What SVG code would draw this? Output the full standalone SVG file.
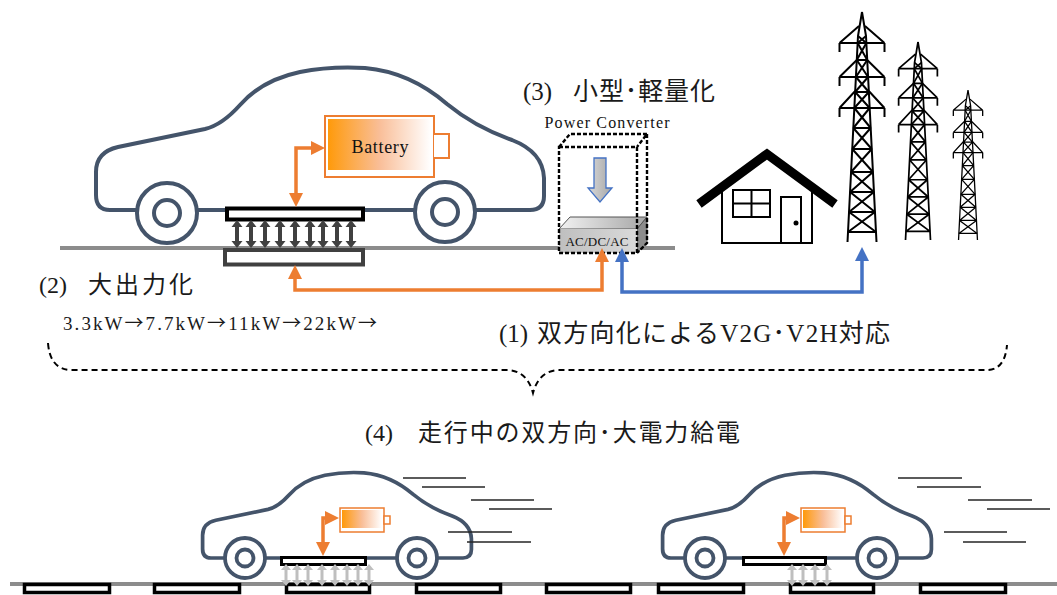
<svg xmlns="http://www.w3.org/2000/svg" xmlns:xlink="http://www.w3.org/1999/xlink" width="1057" height="595" viewBox="0 0 1057 595">
  <style>
    .body { fill: none; stroke: #44546A; stroke-width: 4; stroke-linejoin: round; }
    .body-s { fill: none; stroke: #44546A; stroke-width: 6.2; stroke-linejoin: round; }
    .wheel { fill: #fff; stroke: #44546A; stroke-width: 4; }
    .wheel-s { fill: #fff; stroke: #44546A; stroke-width: 3.8; }
    .ground { stroke: #8C8C8C; stroke-width: 4; fill: none; }
    .pad { fill: #fff; stroke: #000; stroke-width: 4; }
    .pad-s { fill: #fff; stroke: #000; stroke-width: 3; }
    .road-pad { fill: #fff; stroke: #000; stroke-width: 3.5; }
    .batt { fill: #fff; stroke: #ED7D31; stroke-width: 2; }
    .batt-s { fill: #fff; stroke: #ED7D31; stroke-width: 1.5; }
    .orange { fill: none; stroke: #ED7D31; stroke-width: 3.5; marker-start: url(#arrOrange); marker-end: url(#arrOrange); }
    .blue { fill: none; stroke: #4472C4; stroke-width: 3.5; marker-start: url(#arrBlue); marker-end: url(#arrBlue); }
    .speed { stroke: #262626; stroke-width: 1.5; }
    .dash { fill: none; stroke: #000; stroke-width: 2.4; stroke-dasharray: 4 2; }
    .brace { fill: none; stroke: #000; stroke-width: 2; stroke-dasharray: 6 4; }
    .lbl { font-family: "Liberation Serif", "Noto Sans CJK JP", serif; fill: #1a1a1a; }
    .cjk { font-family: "Noto Sans CJK JP", sans-serif; }
    .serif { font-family: "Liberation Serif", "Times New Roman", serif; fill: #111; }
    .tower { fill: none; stroke: #000; stroke-width: 2; stroke-linejoin: round; }
  </style>
  <defs>
    <linearGradient id="battFill" x1="0" y1="0" x2="1" y2="0">
      <stop offset="0" stop-color="#FF9A0A"/>
      <stop offset="0.5" stop-color="#F9BE98"/>
      <stop offset="1" stop-color="#FFFFFF"/>
    </linearGradient>
    <linearGradient id="slabTop" x1="0" y1="0" x2="1" y2="0">
      <stop offset="0" stop-color="#F2F2F2"/>
      <stop offset="1" stop-color="#A6A6A6"/>
    </linearGradient>
    <linearGradient id="slabFront" x1="0" y1="0" x2="1" y2="0">
      <stop offset="0" stop-color="#BFBFBF"/>
      <stop offset="1" stop-color="#D9D9D9"/>
    </linearGradient>
    <linearGradient id="downFill" x1="0" y1="0" x2="1" y2="0">
      <stop offset="0" stop-color="#D9D9D9"/>
      <stop offset="1" stop-color="#A6A6A6"/>
    </linearGradient>
    <marker id="arrOrange" viewBox="0 0 14 14" refX="1" refY="7" markerWidth="14" markerHeight="14" markerUnits="userSpaceOnUse" orient="auto-start-reverse">
      <path d="M0,0 L14,7 L0,14 Z" fill="#ED7D31"/>
    </marker>
    <marker id="arrBlue" viewBox="0 0 14 14" refX="1" refY="7" markerWidth="14" markerHeight="14" markerUnits="userSpaceOnUse" orient="auto-start-reverse">
      <path d="M0,0 L14,7 L0,14 Z" fill="#4472C4"/>
    </marker>
    <!-- double-headed field arrows between coils -->
    <path id="dblDark" d="M0,0 L5.5,7 L2,7 L2,21 L5.5,21 L0,28 L-5.5,21 L-2,21 L-2,7 L-5.5,7 Z" fill="#404040"/>
    <path id="dblLight" d="M0,0 L5,6 L1.5,6 L1.5,16 L5,16 L0,22 L-5,16 L-1.5,16 L-1.5,6 L-5,6 Z" fill="#BFBFBF"/>
    <!-- car outline shared by all vehicles -->
    <path id="carShape" d="M110,210 Q96,210 96,195 V172 Q96,152 118,147 L205,129 Q222,125 240,105 Q262,80 300,72 Q330,66 365,68 Q410,72 447,104 Q475,127 512,140 Q543,152 544,178 V196 Q544,210 530,210 Z"/>
    <!-- lattice tower, apex at origin, 230 high -->
    <g id="tower">
      <path d="M0,0 L-4,24 L-14.5,230 M0,0 L4,24 L14.5,230"/>
      <path d="M-3,14 L-22.5,31 M3,14 L22.5,31 M-22.5,31 H22.5 M-22.5,31 V40 M22.5,31 V40"/>
      <path d="M-5.2,48 L-22.5,65 M5.2,48 L22.5,65 M-22.5,65 H22.5 M-22.5,65 V74 M22.5,65 V74"/>
      <path d="M-6.8,79 L-22.5,96 M6.8,79 L22.5,96 M-22.5,96 H22.5 M-22.5,96 V105 M22.5,96 V105"/>
      <path d="M-4,24 L4.36,31 M4,24 L-4.36,31
               M-4.36,31 L5.22,48 M4.36,31 L-5.22,48
               M-5.22,48 L6.09,65 M5.22,48 L-6.09,65
               M-6.09,65 L6.85,80 M6.09,65 L-6.85,80
               M-6.85,80 L7.67,96 M6.85,80 L-7.67,96
               M-7.67,96 L8.69,116 M7.67,96 L-8.69,116
               M-8.69,116 L9.76,137 M8.69,116 L-9.76,137
               M-9.76,137 L10.93,160 M9.76,137 L-10.93,160
               M-10.93,160 L11.95,180 M10.93,160 L-11.95,180
               M-11.95,180 L12.97,200 M11.95,180 L-12.97,200
               M-12.97,200 L13.99,220 M12.97,200 L-13.99,220
               M-5.22,48 H5.22 M-6.85,80 H6.85 M-8.69,116 H8.69 M-9.76,137 H9.76
               M-10.93,160 H10.93 M-11.95,180 H11.95 M-12.97,200 H12.97 M-13.99,220 H13.99"/>
    </g>
  </defs>

  <!-- ground lines -->
  <g id="ground">
    <path class="ground" d="M60,248 H675"/>
    <path class="ground" d="M10,584 H1057"/>
  </g>

  <!-- stationary charging: car with onboard coil -->
  <g id="car-top">
    <use href="#carShape" class="body"/>
    <circle class="wheel" cx="167" cy="213" r="30"/>
    <circle class="wheel" cx="167" cy="213" r="13"/>
    <circle class="wheel" cx="445" cy="212" r="30"/>
    <circle class="wheel" cx="445" cy="212" r="13"/>
  </g>

  <g id="battery-top">
    <rect class="batt" x="325" y="116" width="109" height="61"/>
    <rect class="batt" x="434" y="134" width="15" height="24"/>
    <rect x="434" y="135" width="2" height="22" fill="#fff"/>
    <rect x="328" y="119" width="103" height="51" fill="url(#battFill)"/>
    <text class="serif" x="380" y="153" font-size="18" text-anchor="middle" textLength="57" lengthAdjust="spacing">Battery</text>
  </g>

  <g id="coil-vehicle">
    <rect class="pad" x="227" y="208.5" width="136" height="11"/>
  </g>

  <g id="coil-ground">
    <rect x="225" y="250" width="138" height="14.5" fill="#fff" stroke="#404040" stroke-width="4"/>
  </g>

  <g id="field-arrows-top">
    <use href="#dblDark" x="237" y="220"/>
    <use href="#dblDark" x="251" y="220"/>
    <use href="#dblDark" x="265" y="220"/>
    <use href="#dblDark" x="280" y="220"/>
    <use href="#dblDark" x="295" y="220"/>
    <use href="#dblDark" x="310" y="220"/>
    <use href="#dblDark" x="323" y="220"/>
    <use href="#dblDark" x="337" y="220"/>
    <use href="#dblDark" x="351" y="220"/>
  </g>

  <!-- power converter box -->
  <g id="converter">
    <polygon points="559,229 570,217 647,217 637,229" fill="url(#slabTop)" stroke="#555" stroke-width="1"/>
    <polygon points="637,229 647,217 647,243 637,253" fill="#8C8C8C" stroke="#555" stroke-width="1"/>
    <rect x="559" y="229" width="78" height="24" fill="url(#slabFront)"/>
    <text class="serif" x="597" y="246" font-size="13" text-anchor="middle" textLength="63" lengthAdjust="spacing">AC/DC/AC</text>
    <polygon points="594,158 606,158 606,188 612,188 600,202 588,188 594,188" fill="url(#downFill)" stroke="#4472C4" stroke-width="1.3"/>
    <path class="dash" d="M559,147 H637 V253 H559 Z M559,147 L570,134 H647 L637,147 M647,134 V243 L637,253"/>
    <text class="serif" x="607" y="128" font-size="16" text-anchor="middle" textLength="125" lengthAdjust="spacing">Power Converter</text>
  </g>

  <!-- house -->
  <g id="house" fill="none" stroke="#000">
    <path d="M722,188 V243 H812 V188" stroke-width="2"/>
    <rect x="733" y="190" width="37" height="27" stroke-width="2"/>
    <path d="M751.5,190 V217 M733,203.5 H770" stroke-width="2"/>
    <rect x="781" y="197" width="20" height="46" stroke-width="2"/>
    <circle cx="796" cy="223" r="2.5" fill="#000" stroke="none"/>
    <polyline points="699,204 767,154 835,204" stroke-width="9" stroke-linejoin="miter"/>
  </g>

  <!-- transmission towers -->
  <g id="tower-1" class="tower" transform="translate(862,12)"><use href="#tower"/></g>
  <g id="tower-2" class="tower" transform="translate(918,42) scale(0.861)"><use href="#tower"/></g>
  <g id="tower-3" class="tower" transform="translate(968,90) scale(0.652)"><use href="#tower"/></g>

  <!-- dynamic charging: road coils -->
  <g id="road-coils">
    <rect class="road-pad" x="24.5" y="584.5" width="85" height="8"/>
    <rect class="road-pad" x="154.5" y="584.5" width="85" height="8"/>
    <rect class="road-pad" x="286.5" y="584.5" width="83" height="8"/>
    <rect class="road-pad" x="416.5" y="584.5" width="84" height="8"/>
    <rect class="road-pad" x="546.5" y="584.5" width="84" height="8"/>
    <rect class="road-pad" x="658.5" y="584.5" width="85" height="8"/>
    <rect class="road-pad" x="790.5" y="584.5" width="83" height="8"/>
    <rect class="road-pad" x="920.5" y="584.5" width="85" height="8"/>
  </g>

  <g id="car-moving-1">
    <g transform="translate(145,432) scale(0.6)"><use href="#carShape" class="body-s"/></g>
    <circle class="wheel-s" cx="245" cy="558" r="20"/>
    <circle class="wheel-s" cx="245" cy="558" r="8.5"/>
    <circle class="wheel-s" cx="417" cy="558" r="20"/>
    <circle class="wheel-s" cx="417" cy="558" r="8.5"/>
    <rect class="pad-s" x="281.5" y="557.5" width="84" height="7"/>
    <rect class="batt-s" x="340" y="508" width="44" height="24"/>
    <rect class="batt-s" x="384" y="516" width="6" height="8"/>
    <rect x="342" y="510" width="40" height="18" fill="url(#battFill)"/>
  </g>

  <g id="car-moving-2">
    <g transform="translate(605,432) scale(0.6)"><use href="#carShape" class="body-s"/></g>
    <circle class="wheel-s" cx="705" cy="558" r="20"/>
    <circle class="wheel-s" cx="705" cy="558" r="8.5"/>
    <circle class="wheel-s" cx="877" cy="558" r="20"/>
    <circle class="wheel-s" cx="877" cy="558" r="8.5"/>
    <rect class="pad-s" x="743.5" y="557.5" width="82" height="7"/>
    <rect class="batt-s" x="801" y="508" width="44" height="24"/>
    <rect class="batt-s" x="845" y="516" width="6" height="8"/>
    <rect x="803" y="510" width="40" height="18" fill="url(#battFill)"/>
  </g>

  <g id="field-arrows-moving">
    <use href="#dblLight" x="286" y="564"/>
    <use href="#dblLight" x="297" y="564"/>
    <use href="#dblLight" x="308" y="564"/>
    <use href="#dblLight" x="322" y="564"/>
    <use href="#dblLight" x="335" y="564"/>
    <use href="#dblLight" x="347" y="564"/>
    <use href="#dblLight" x="358" y="564"/>
    <use href="#dblLight" x="369" y="564"/>
    <use href="#dblLight" x="792" y="564"/>
    <use href="#dblLight" x="803" y="564"/>
    <use href="#dblLight" x="815" y="564"/>
    <use href="#dblLight" x="827" y="564"/>
  </g>

  <g id="speed-lines">
    <path class="speed" d="M403,478 H466 M422,487 H485 M471,500 H534 M489,509 H552 M448,532 H512 M467,542 H531"/>
    <path class="speed" d="M898,478 H962 M917,487 H981 M968,500 H1032 M987,509 H1050 M944,532 H1007 M963,542 H1026"/>
  </g>

  <!-- power flow connectors -->
  <g id="connectors">
    <path class="orange" d="M296,194 V148 H312"/>
    <path class="orange" d="M295,278 V290 H602 V261"/>
    <path class="blue" d="M622,261 V292 H862 V260"/>
    <path class="orange" d="M323,543 V518 H326"/>
    <path class="orange" d="M784,543 V518 H787"/>
  </g>

  <!-- grouping brace -->
  <g id="brace">
    <path class="brace" d="M48,343 Q50,370 72,370 H508 Q527,371 533,393 Q539,371 558,370 H988 Q1005,369 1007,345"/>
  </g>

  <!-- labels -->
  <g id="labels">
    <text class="lbl" font-size="25" y="100"><tspan x="523">(3) </tspan><tspan x="573" textLength="142" lengthAdjust="spacing">小型･軽量化</tspan></text>
    <text class="lbl" font-size="24" y="293"><tspan x="39">(2) </tspan><tspan x="88" textLength="105" lengthAdjust="spacing">大出力化</tspan></text>
    <text class="lbl" x="63" y="330" font-size="19" textLength="314" lengthAdjust="spacing">3.3kW<tspan class="cjk">→</tspan>7.7kW<tspan class="cjk">→</tspan>11kW<tspan class="cjk">→</tspan>22kW<tspan class="cjk">→</tspan></text>
    <text class="lbl" font-size="25" y="342"><tspan x="499">(1) </tspan><tspan x="537" textLength="353" lengthAdjust="spacing">双方向化によるV2G･V2H対応</tspan></text>
    <text class="lbl" font-size="24" y="441"><tspan x="365">(4) </tspan><tspan x="418" textLength="322" lengthAdjust="spacing">走行中の双方向･大電力給電</tspan></text>
  </g>
</svg>
